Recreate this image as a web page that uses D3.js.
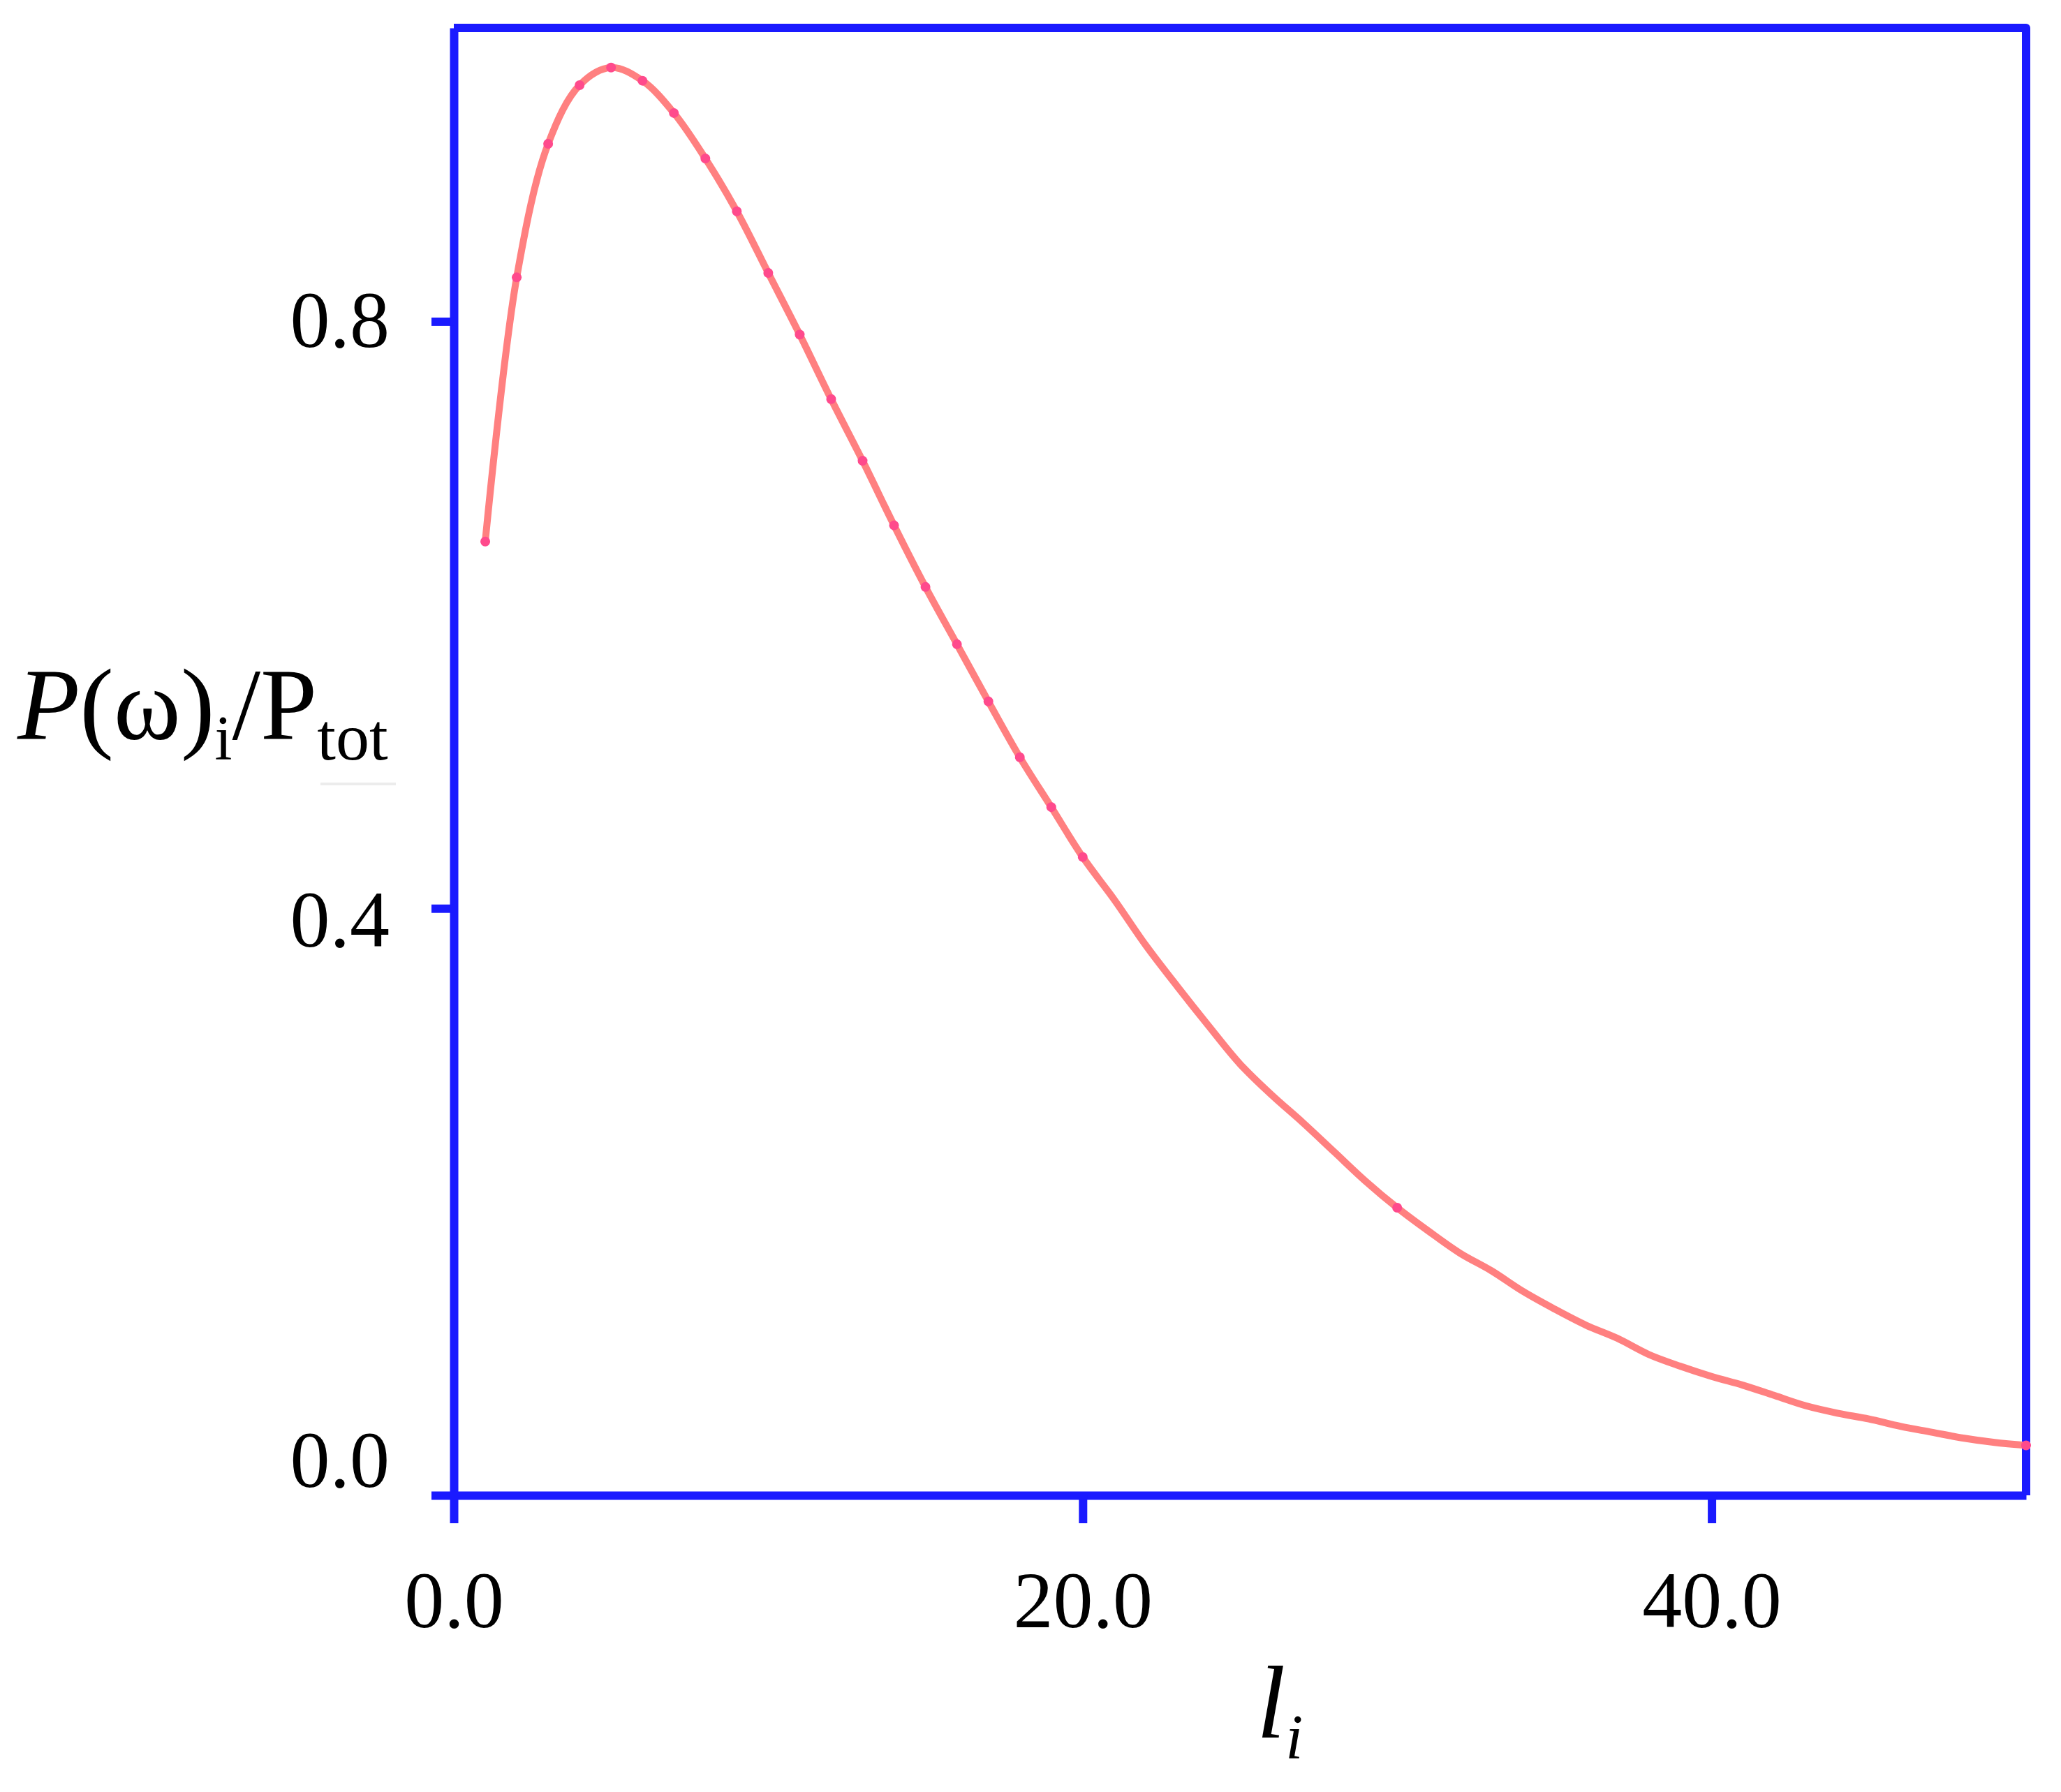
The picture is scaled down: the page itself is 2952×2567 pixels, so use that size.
<!DOCTYPE html>
<html>
<head>
<meta charset="utf-8">
<script src="https://cdn.jsdelivr.net/npm/d3@7"></script>
<style>
  html, body { margin: 0; padding: 0; background: #fff; }
  svg { display: block; }
  .axis text { font-family: 'Liberation Serif', 'Times New Roman', serif; fill: #000; }
</style>
</head>
<body>
<div id="chart"></div>
<script>
// ── DATA ─────────────────────────────────────────────────────────────────────
const L_VALUES = [
   1,  2,  3,  4,  5,  6,  7,  8,  9, 10,
  11, 12, 13, 14, 15, 16, 17, 18, 19, 20,
  21, 22, 23, 24, 25, 26, 27, 28, 29, 30,
  31, 32, 33, 34, 35, 36, 37, 38, 39, 40,
  41, 42, 43, 44, 45, 46, 47, 48, 49, 50
];

const P_RATIO = [
  0.650, 0.830, 0.921, 0.961, 0.973, 0.964, 0.942, 0.911, 0.875, 0.833,
  0.791, 0.747, 0.705, 0.661, 0.619, 0.580, 0.541, 0.503, 0.469, 0.435,
  0.406, 0.375, 0.347, 0.320, 0.294, 0.273, 0.254, 0.234, 0.214, 0.196,
  0.180, 0.165, 0.153, 0.139, 0.127, 0.116, 0.107, 0.096, 0.088, 0.081,
  0.075, 0.068, 0.061, 0.056, 0.052, 0.047, 0.043, 0.039, 0.036, 0.034
];

// points that carry a visible dot in the original
const MARKER_L = [1, 2, 3, 4, 5, 6, 7, 8, 9, 10, 11, 12, 13, 14, 15, 16, 17, 18, 19, 20, 30, 50];

const X_TICKS = [0, 20, 40];
const Y_TICKS = [0.0, 0.4, 0.8];
const X_DOMAIN = [0, 50];
const Y_DOMAIN = [0, 1];

// ── STYLE ────────────────────────────────────────────────────────────────────
const AXIS_COLOR   = '#1a1aff';
const AXIS_WIDTH   = 12;
const LINE_COLOR   = '#ff8080';
const MARKER_COLOR = '#ff4a8c';
const FONT         = "'Liberation Serif', 'Times New Roman', serif";

// ── DIMENSIONS ───────────────────────────────────────────────────────────────
const W = 2952, H = 2567;
const margin = { top: 40, right: 50, bottom: 425, left: 650 };
const width  = W - margin.left - margin.right;
const height = H - margin.top  - margin.bottom;

// ── SVG ──────────────────────────────────────────────────────────────────────
const root = d3.select('#chart')
  .append('svg')
    .attr('width', W)
    .attr('height', H);

root.append('rect').attr('width', W).attr('height', H).attr('fill', '#fff');

const svg = root.append('g')
  .attr('transform', `translate(${margin.left},${margin.top})`);

// ── SCALES ───────────────────────────────────────────────────────────────────
const x = d3.scaleLinear().domain(X_DOMAIN).range([0, width]);
const y = d3.scaleLinear().domain(Y_DOMAIN).range([height, 0]);

const data = L_VALUES.map((l, i) => ({ l, p: P_RATIO[i] }));

// ── FRAME (top + right) ──────────────────────────────────────────────────────
svg.append('path')
  .attr('d', `M0,${y(Y_DOMAIN[1])}H${x(X_DOMAIN[1])}V${y(Y_DOMAIN[0])}`)
  .attr('fill', 'none')
  .attr('stroke', AXIS_COLOR)
  .attr('stroke-width', AXIS_WIDTH)
  .attr('stroke-linejoin', 'round');

// ── AXES ─────────────────────────────────────────────────────────────────────
// small per-label vertical nudges, as in the original layout
const Y_LABEL_SHIFT = { '0.0': -49, '0.4': 18, '0.8': 0 };

const yAxisG = svg.append('g')
  .attr('class', 'axis')
  .call(d3.axisLeft(y)
    .tickValues(Y_TICKS)
    .tickSize(32)
    .tickSizeOuter(0)
    .tickPadding(60)
    .tickFormat(d3.format('.1f')));

yAxisG.selectAll('text')
  .attr('font-size', 114)
  .attr('font-family', FONT)
  .attr('transform', d => `translate(0,${Y_LABEL_SHIFT[d3.format('.1f')(d)] || 0})`);

const xAxisG = svg.append('g')
  .attr('class', 'axis')
  .attr('transform', `translate(0,${height})`)
  .call(d3.axisBottom(x)
    .tickValues(X_TICKS)
    .tickSize(40)
    .tickSizeOuter(0)
    .tickPadding(68)
    .tickFormat(d3.format('.1f')));

xAxisG.selectAll('text')
  .attr('font-size', 114)
  .attr('font-family', FONT);

[yAxisG, xAxisG].forEach(g => {
  g.select('.domain')
    .attr('stroke', AXIS_COLOR)
    .attr('stroke-width', AXIS_WIDTH);
  g.selectAll('.tick line')
    .attr('stroke', AXIS_COLOR)
    .attr('stroke-width', AXIS_WIDTH);
});

// ── CURVE ────────────────────────────────────────────────────────────────────
const line = d3.line()
  .x(d => x(d.l))
  .y(d => y(d.p))
  .curve(d3.curveCatmullRom);

svg.append('path')
  .datum(data)
  .attr('fill', 'none')
  .attr('stroke', LINE_COLOR)
  .attr('stroke-width', 10)
  .attr('stroke-linejoin', 'round')
  .attr('stroke-linecap', 'round')
  .attr('d', line);

svg.selectAll('.marker')
  .data(data.filter(d => MARKER_L.includes(d.l)))
  .join('circle')
    .attr('class', 'marker')
    .attr('cx', d => x(d.l))
    .attr('cy', d => y(d.p))
    .attr('r', 7)
    .attr('fill', MARKER_COLOR);

// ── AXIS TITLES ──────────────────────────────────────────────────────────────
const yTitle = root.append('text')
  .attr('x', 25)
  .attr('y', 1059)
  .attr('font-family', FONT)
  .attr('font-size', 146)
  .attr('fill', '#000');

yTitle.append('tspan').attr('font-style', 'italic').text('P');
yTitle.append('tspan').text('(ω)');
yTitle.append('tspan').attr('font-size', 90).attr('dy', 29).text('i');
yTitle.append('tspan').attr('dy', -29).text('/P');
yTitle.append('tspan').attr('font-size', 96).attr('dy', 29).text('tot');

// faint smudge under the label in the source image
root.append('line')
  .attr('x1', 459).attr('x2', 567)
  .attr('y1', 1123).attr('y2', 1123)
  .attr('stroke', '#ececec')
  .attr('stroke-width', 4);

const xTitle = root.append('text')
  .attr('x', 1800)
  .attr('y', 2489)
  .attr('font-family', FONT)
  .attr('font-size', 148)
  .attr('font-style', 'italic')
  .attr('fill', '#000');

xTitle.append('tspan').text('l');
xTitle.append('tspan').attr('font-size', 90).attr('dy', 30).text('i');
</script>
</body>
</html>
